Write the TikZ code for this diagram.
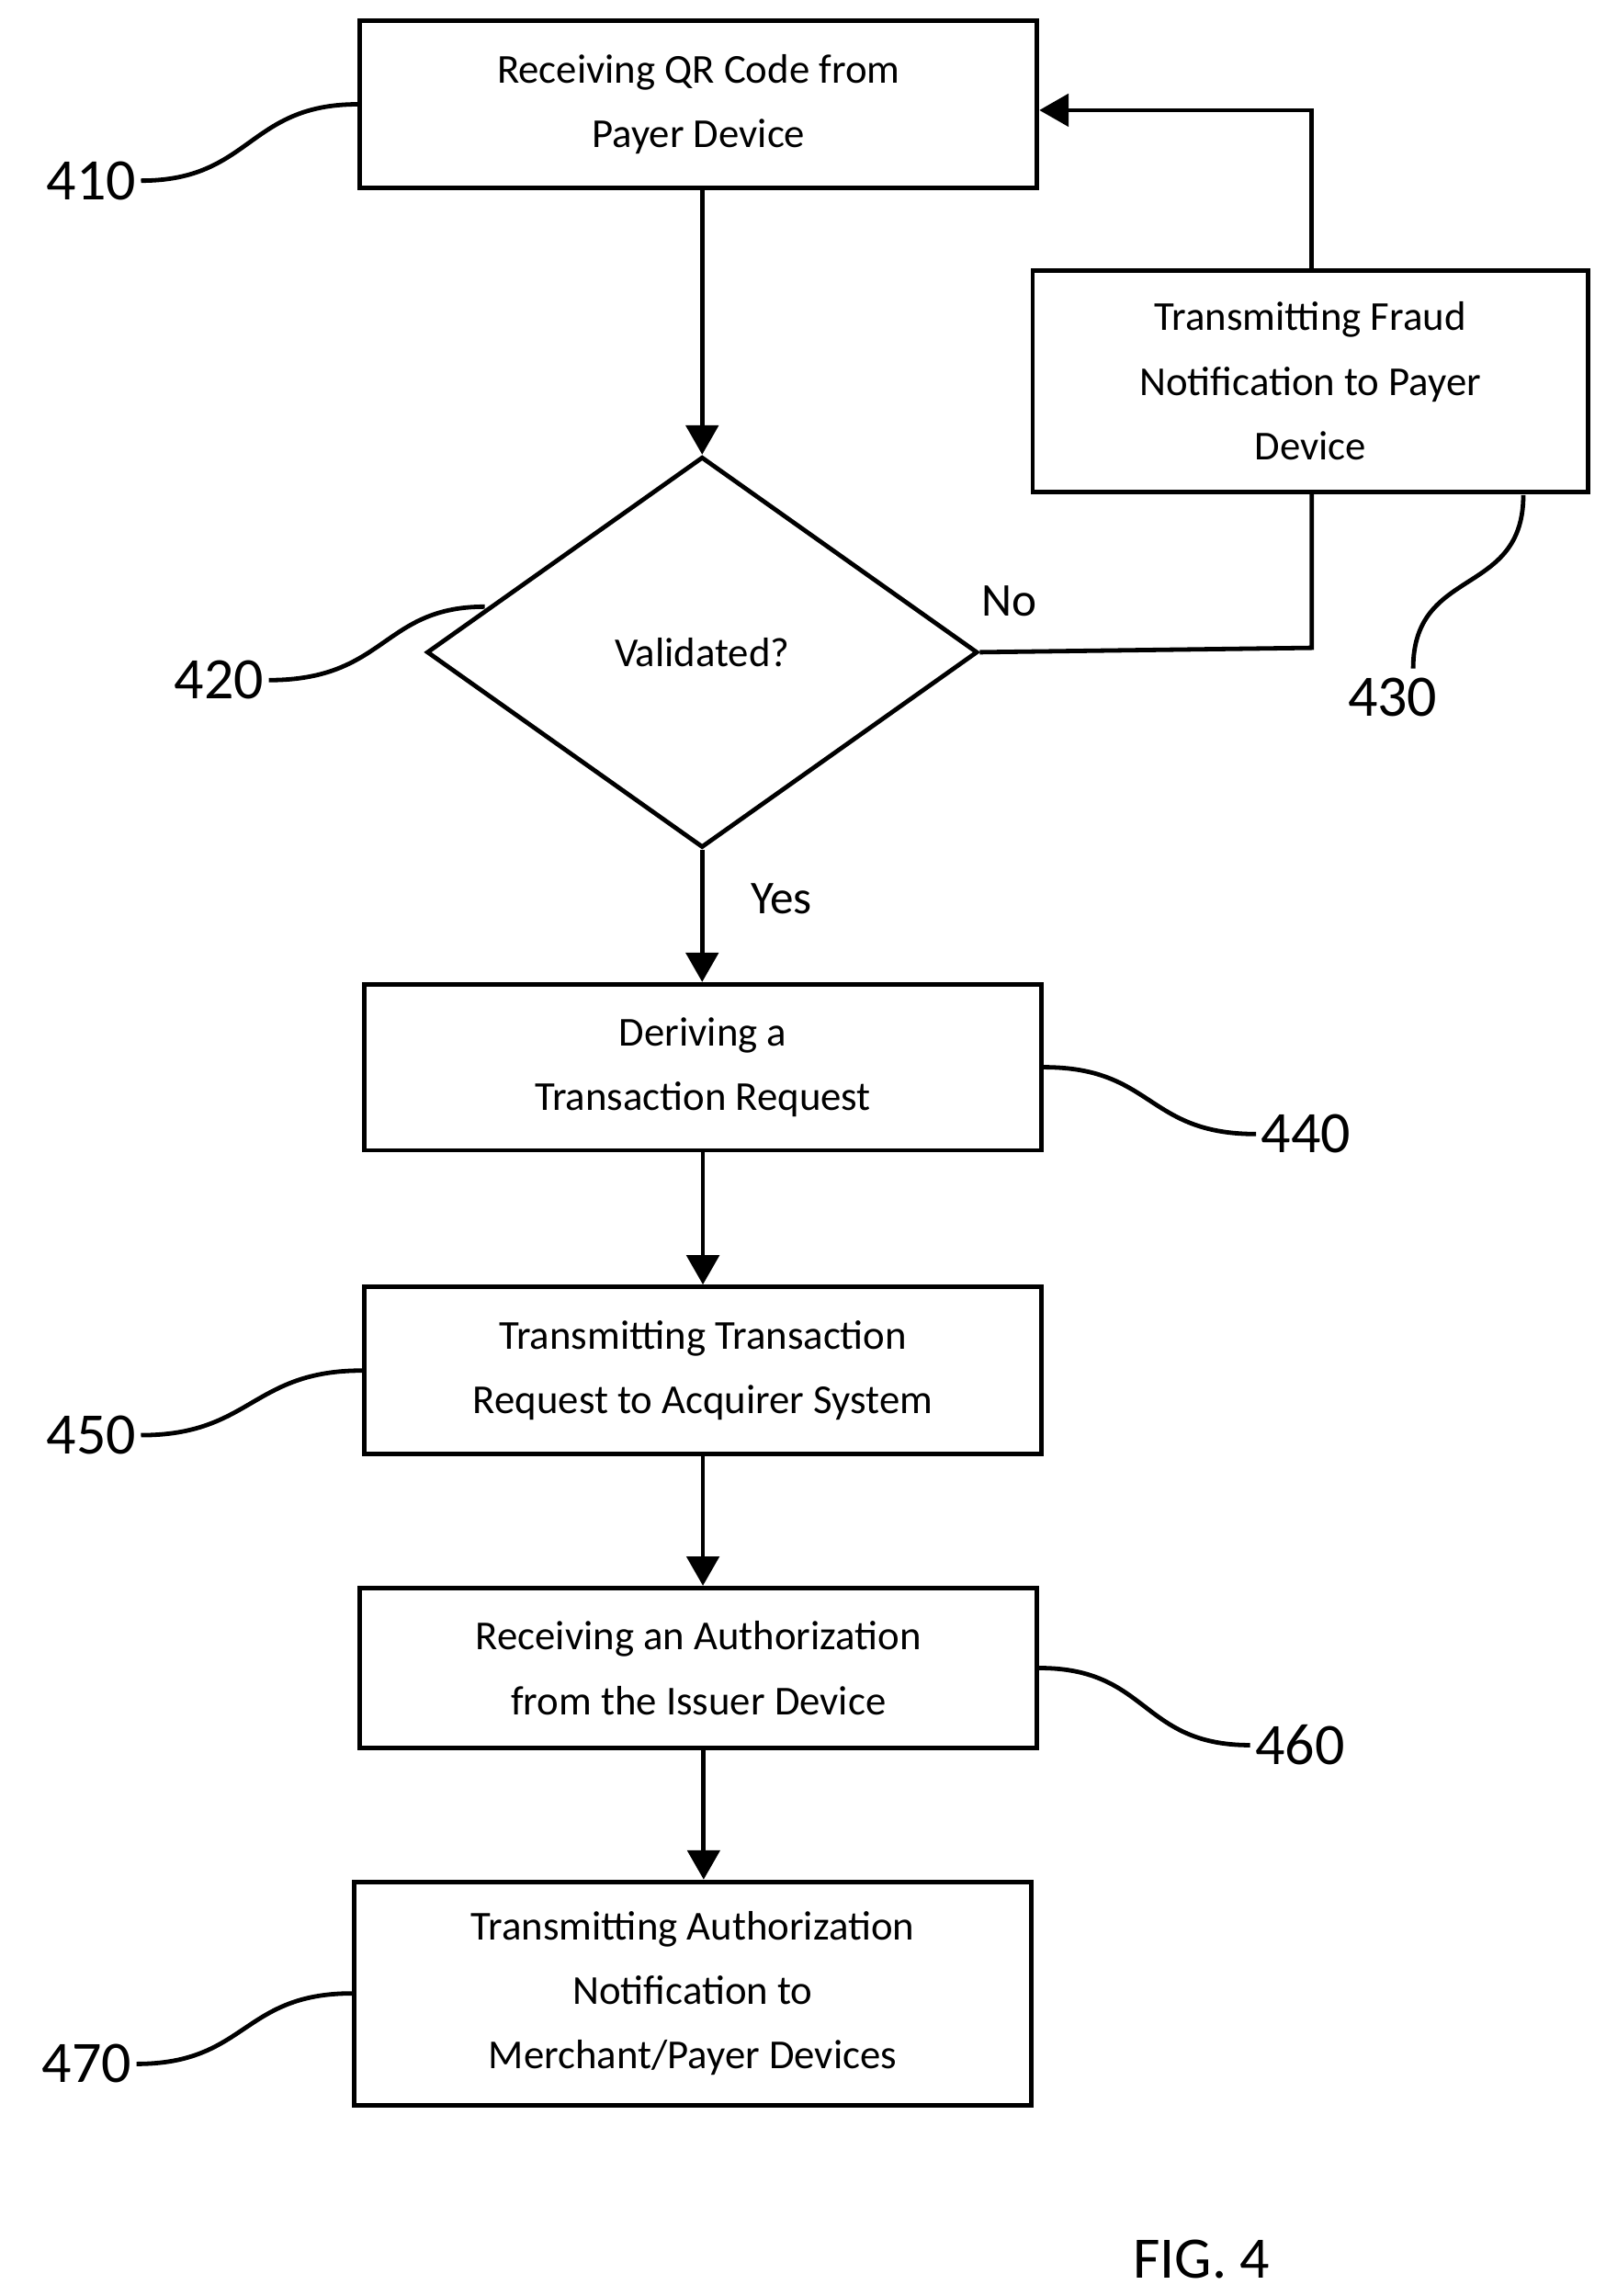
\documentclass[tikz,border=0pt]{standalone}
\usepackage{fontspec}
\setmainfont{Carlito}
\usetikzlibrary{arrows.meta,shapes.geometric}
\begin{document}
\begin{tikzpicture}[x=1pt,y=-1pt,line width=3pt,
  box/.style={draw,rectangle,align=center,font=\fontsize{28}{44}\selectfont,inner sep=0pt},
  lab/.style={font=\fontsize{40}{48}\selectfont},
  arr/.style={-{Triangle[length=20,width=22]}},
  sq/.style={line width=3pt}]
\useasboundingbox (0,0) rectangle (1093,1563);
\node[box,minimum width=461,minimum height=114] (b410) at (475.5,71) {Receiving QR Code from\\Payer Device};
\node[box,minimum width=378,minimum height=151] (b430) at (892,259.5) {Transmitting Fraud\\Notification to Payer\\Device};
\node[draw,diamond,aspect=1.41,minimum width=375,minimum height=266,inner sep=0pt,font=\fontsize{28}{34}\selectfont] (d420) at (478,444) {Validated?};
\node[box,minimum width=461,minimum height=113] (b440) at (478.5,726.5) {Deriving a\\Transaction Request};
\node[box,minimum width=461,minimum height=114] (b450) at (478.5,933) {Transmitting Transaction\\Request to Acquirer System};
\node[box,minimum width=461,minimum height=109] (b460) at (475.5,1135.5) {Receiving an Authorization\\from the Issuer Device};
\node[box,minimum width=461,minimum height=152] (b470) at (471.5,1357) {Transmitting Authorization\\Notification to\\Merchant/Payer Devices};
\draw[arr] (b410.south -| d420.north) -- (d420.north);
\coordinate (c1) at (893,441);
\draw (d420.east) -- (c1) -- (b430.south -| c1);
\coordinate (c2) at (893,75);
\draw[arr] (b430.north -| c2) -- (c2) -- (b410.east |- c2);
\draw[arr] (d420.south) -- (b440.north -| d420.south);
\draw[arr] (b440.south) -- (b450.north);
\draw[arr] (b450.south) -- (b460.north -| b450.south);
\draw[arr] (b460.south -| 479,0) -- (b470.north -| 479,0);
\node[font=\fontsize{32}{38}\selectfont] (no) at (687,409) {No};
\node[font=\fontsize{32}{38}\selectfont] (yes) at (532,612) {Yes};
\node[lab,anchor=east,inner sep=2pt] (l410) at (96,123) {410};
\draw (l410.east) .. controls +(75,0) and +(-75,0) .. (b410.west);
\node[lab,anchor=east,inner sep=2pt] (l420) at (183,463) {420};
\coordinate (p420) at (330,413);
\draw (l420.east) .. controls +(80,0) and +(-70,0) .. (p420);
\node[lab] (l430) at (948,475) {430};
\coordinate (p430) at (1037,337);
\draw (l430.north) ++(14,-2) .. controls +(0,-70) and +(0,70) .. (p430);
\node[lab,anchor=west,inner sep=2pt] (l440) at (855,772) {440};
\draw (l440.west) .. controls +(-75,0) and +(75,0) .. (b440.east);
\node[lab,anchor=east,inner sep=2pt] (l450) at (96,977) {450};
\draw (l450.east) .. controls +(75,0) and +(-75,0) .. (b450.west);
\node[lab,anchor=west,inner sep=2pt] (l460) at (851,1188) {460};
\draw (l460.west) .. controls +(-75,0) and +(75,0) .. (b460.east);
\node[lab,anchor=east,inner sep=2pt] (l470) at (93,1405) {470};
\draw (l470.east) .. controls +(75,0) and +(-75,0) .. (b470.west);
\node[lab] (fig) at (818,1538) {FIG. 4};
\end{tikzpicture}
\end{document}
